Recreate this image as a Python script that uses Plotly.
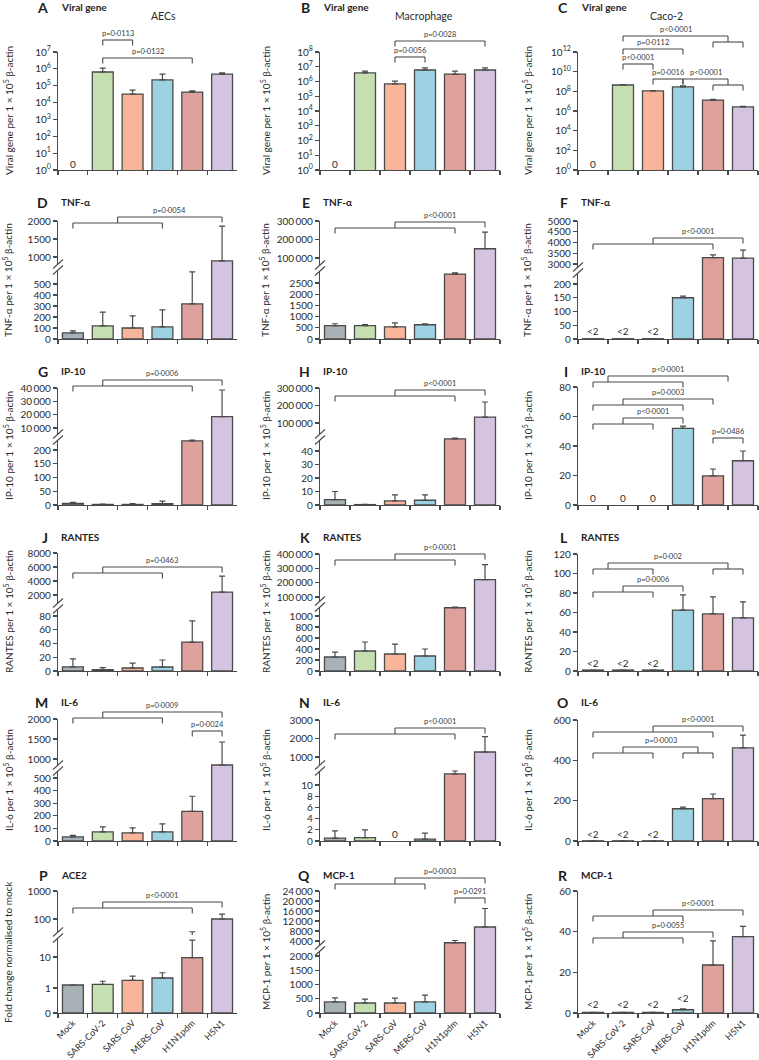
import plotly.graph_objects as go

W, H = 759, 1060

categories = ["Mock", "SARS-CoV-2", "SARS-CoV", "MERS-CoV", "H1N1pdm", "H5N1"]
bar_colors = ["#a8b1b6", "#c6dfb1", "#f8b59a", "#9dd2e3", "#dea19c", "#d4c4e2"]

# ---- values: bar height (mean) and top of error bar ----
viral_aec = [0, 6.5e5, 3.2e4, 2.2e5, 4.2e4, 4.9e5]
viral_aec_hi = [None, 1.1e6, 5.5e4, 4.9e5, 4.9e4, 5.7e5]
viral_mac = [0, 3.8e6, 6.8e5, 6.0e6, 3.2e6, 6.0e6]
viral_mac_hi = [None, 5.1e6, 1.07e6, 8.3e6, 5.1e6, 8.3e6]
viral_caco = [0, 4.4e8, 1.1e8, 2.8e8, 1.3e7, 2.6e6]
viral_caco_hi = [None, 4.8e8, 1.2e8, 3.6e8, 1.5e7, 2.9e6]

tnf_aec = [55, 120, 100, 110, 320, 890]
tnf_aec_hi = [73, 245, 210, 264, 610, 1860]
tnf_mac = [600, 600, 545, 636, 2900, 150000]
tnf_mac_hi = [680, 640, 720, 680, 2950, 240000]
tnf_caco = [1, 1, 1, 150, 3300, 3270]
tnf_caco_hi = [None, None, None, 156, 3420, 3650]

ip10_aec = [6, 2, 2, 5, 233, 18500]
ip10_aec_hi = [10, 3, 5, 14, 236, 38500]
ip10_mac = [4, 0.3, 3, 3.5, 49, 134000]
ip10_mac_hi = [10, 0.5, 7.5, 7.5, 49.5, 220000]
ip10_caco = [0, 0, 0, 52, 19.7, 30]
ip10_caco_hi = [None, None, None, 53.5, 24.4, 36.6]

rantes_aec = [6, 2, 4.4, 5.8, 42, 2400]
rantes_aec_hi = [17.5, 5, 11.6, 16, 73, 4700]
rantes_mac = [255, 364, 309, 273, 1150, 221000]
rantes_mac_hi = [345, 527, 490, 400, 1160, 326000]
rantes_caco = [1, 1, 1, 62.5, 58.5, 54.5]
rantes_caco_hi = [None, None, None, 78, 76, 71]

il6_aec = [32, 72, 64, 72, 235, 850]
il6_aec_hi = [45, 112, 104, 136, 355, 1425]
il6_mac = [0.5, 0.6, 0, 0.35, 12, 1270]
il6_mac_hi = [1.8, 2, None, 1.4, 12.5, 2100]
il6_caco = [1, 1, 1, 160, 210, 462]
il6_caco_hi = [None, None, None, 168, 233, 525]

ace2 = [1.25, 1.3, 1.75, 2.1, 9.5, 100]
ace2_hi = [None, 1.65, 2.4, 3.1, 35, 150]
mcp1_mac = [390, 350, 350, 390, 3300, 9600]
mcp1_mac_hi = [530, 490, 520, 630, 4200, 17000]
mcp1_caco = [0.3, 0.3, 0.3, 1.6, 23.6, 37.6]
mcp1_caco_hi = [None, None, None, 2.0, 35.5, 42.6]

AX = "#4a4a4a"
TXT = "#2b2b2b"
FONT = "Lato, 'Open Sans', sans-serif"

col_x = [(58, 237), (320, 500), (578, 758)]
col_ytitle_x = [8, 265, 527]
row_title_y = [7, 202, 371, 537, 702, 875]
row_ytitle_y = [111, 280, 446, 612, 780, 952]


def sup(n):
    return f"10<sup>{n}</sup>"


def th(v):
    s = f"{int(v):,}"
    return s.replace(",", "\u2009") if v >= 10000 else s.replace(",", "")


def seg(kind, cal, dom, tv, tt=None):
    return dict(kind=kind, cal=cal, dom=dom, tv=tv, tt=tt if tt is not None else [th(v) for v in tv])


YT = " per 1 × 10<sup>5</sup> β-actin"

panels = [
    dict(letter="A", name="Viral gene", col=0, row=0, mean=viral_aec, hi=viral_aec_hi,
         segs=[seg("log", (0, 170, 7, 52), (52, 170), [10 ** k for k in range(8)], [sup(k) for k in range(8)])],
         br=[(1, 1, 1, 2, 2, 2, 40, "p=0·0113"), (1, 1, 1, 4, 4, 4, 58, "p=0·0132")],
         lab=[(0, 164, "0")], brk=[], yt="Viral gene" + YT),
    dict(letter="B", name="Viral gene", col=1, row=0, mean=viral_mac, hi=viral_mac_hi,
         segs=[seg("log", (0, 170, 8, 52), (52, 170), [10 ** k for k in range(9)], [sup(k) for k in range(9)])],
         br=[(2, 2, 2, 5, 5, 5, 41, "p=0·0028"), (2, 2, 2, 3, 3, 3, 57, "p=0·0056")],
         lab=[(0, 164, "0")], brk=[], yt="Viral gene" + YT),
    dict(letter="C", name="Viral gene", col=2, row=0, mean=viral_caco, hi=viral_caco_hi,
         segs=[seg("log", (0, 170, 12, 52), (52, 170), [10 ** k for k in range(0, 13, 2)],
                   [sup(k) for k in range(0, 13, 2)])],
         br=[(1, 1, 1, 4, 5, 4.5, 36, "p<0·0001"), (1, 1, 1, 3, 3, 3, 49, "p=0·0112"),
             (1, 1, 1, 2, 2, 2, 64, "p<0·0001"), (2, 2, 2, 3, 3, 3, 79, "p=0·0016"),
             (3, 3, 3, 4, 5, 4.5, 79, "p<0·0001")],
         lab=[(0, 164, "0")], brk=[], yt="Viral gene" + YT),

    dict(letter="D", name="TNF-α", col=0, row=1, mean=tnf_aec, hi=tnf_aec_hi,
         segs=[seg("linear", (0, 339, 500, 284), (267, 339), [0, 100, 200, 300, 400, 500]),
               seg("linear", (1000, 257, 2000, 221), (221, 267), [1000, 1500, 2000])],
         br=[(0, 3, 1.5, 5, 5, 5, 217, "p=0·0054")], lab=[], brk=[267], yt="TNF-α" + YT),
    dict(letter="E", name="TNF-α", col=1, row=1, mean=tnf_mac, hi=tnf_mac_hi,
         segs=[seg("linear", (0, 339, 2500, 283), (268, 339), [0, 500, 1000, 1500, 2000, 2500]),
               seg("linear", (100000, 258, 300000, 221), (221, 268), [100000, 200000, 300000])],
         br=[(0, 4, 2, 5, 5, 5, 222, "p<0·0001")], lab=[], brk=[268], yt="TNF-α" + YT),
    dict(letter="F", name="TNF-α", col=2, row=1, mean=tnf_caco, hi=tnf_caco_hi,
         segs=[seg("linear", (0, 339, 200, 284), (270, 339), [0, 50, 100, 150, 200]),
               seg("linear", (3000, 264, 5000, 221), (221, 270), [3000, 3500, 4000, 4500, 5000])],
         br=[(0, 4, 2, 5, 5, 5, 238, "p<0·0001")],
         lab=[(0, 331, "<2"), (1, 331, "<2"), (2, 331, "<2")], brk=[270], yt="TNF-α" + YT),

    dict(letter="G", name="IP-10", col=0, row=2, mean=ip10_aec, hi=ip10_aec_hi,
         segs=[seg("linear", (0, 505, 200, 450), (437, 505), [0, 50, 100, 150, 200]),
               seg("linear", (10000, 428, 40000, 388), (388, 437), [10000, 20000, 30000, 40000])],
         br=[(0, 4, 1, 5, 5, 5, 380, "p=0·0006")], lab=[], brk=[437], yt="IP-10" + YT),
    dict(letter="H", name="IP-10", col=1, row=2, mean=ip10_mac, hi=ip10_mac_hi,
         segs=[seg("linear", (0, 505, 40, 451), (437, 505), [0, 10, 20, 30, 40]),
               seg("linear", (100000, 423, 300000, 388), (388, 437), [100000, 200000, 300000])],
         br=[(0, 4, 2, 5, 5, 5, 390, "p<0·0001")], lab=[], brk=[437], yt="IP-10" + YT),
    dict(letter="I", name="IP-10", col=2, row=2, mean=ip10_caco, hi=ip10_caco_hi,
         segs=[seg("linear", (0, 505, 80, 387), (387, 505), [0, 20, 40, 60, 80])],
         br=[(0, 3, 0.5, 4.5, 4.5, 4.5, 376, "p<0·0001"), (0, 3, 1, 4, 4, 4, 399, "p=0·0003"),
             (0, 2, 1, 3, 3, 3, 418, "p<0·0001"), (4, 4, 4, 5, 5, 5, 438, "p=0·0486")],
         lab=[(0, 498, "0"), (1, 498, "0"), (2, 498, "0")], brk=[], yt="IP-10" + YT),

    dict(letter="J", name="RANTES", col=0, row=3, mean=rantes_aec, hi=rantes_aec_hi,
         segs=[seg("linear", (0, 671, 80, 616), (606, 671), [0, 20, 40, 60, 80]),
               seg("linear", (2000, 595, 8000, 553), (553, 606), [2000, 4000, 6000, 8000])],
         br=[(0, 3, 1, 5, 5, 5, 567, "p=0·0463")], lab=[], brk=[606], yt="RANTES" + YT),
    dict(letter="K", name="RANTES", col=1, row=3, mean=rantes_mac, hi=rantes_mac_hi,
         segs=[seg("linear", (0, 671, 1000, 616), (604, 671), [0, 200, 400, 600, 800, 1000]),
               seg("linear", (100000, 597, 400000, 554), (554, 604), [100000, 200000, 300000, 400000])],
         br=[(0, 4, 2, 5, 5, 5, 554, "p<0·0001")], lab=[], brk=[604], yt="RANTES" + YT),
    dict(letter="L", name="RANTES", col=2, row=3, mean=rantes_caco, hi=rantes_caco_hi,
         segs=[seg("linear", (0, 671, 120, 554), (554, 671), [0, 20, 40, 60, 80, 100, 120])],
         br=[(0, 2, 0.5, 4, 5, 4.5, 563, "p=0·002"), (0, 2, 1, 3, 3, 3, 586, "p=0·0006")],
         lab=[(0, 663, "<2"), (1, 663, "<2"), (2, 663, "<2")], brk=[], yt="RANTES" + YT),

    dict(letter="M", name="IL-6", col=0, row=4, mean=il6_aec, hi=il6_aec_hi,
         segs=[seg("linear", (0, 841, 500, 778), (768, 841), [0, 100, 200, 300, 400, 500]),
               seg("linear", (1000, 759, 2000, 719), (719, 768), [1000, 1500, 2000])],
         br=[(0, 3, 1, 5, 5, 5, 712, "p=0·0009"), (4, 4, 4, 5, 5, 5, 731, "p=0·0024")],
         lab=[], brk=[768], yt="IL-6" + YT),
    dict(letter="N", name="IL-6", col=1, row=4, mean=il6_mac, hi=il6_mac_hi,
         segs=[seg("linear", (0, 841, 10, 785), (768, 841), [0, 2, 4, 6, 8, 10]),
               seg("linear", (1000, 757, 3000, 720), (720, 768), [1000, 2000, 3000])],
         br=[(0, 4, 2, 5, 5, 5, 728, "p<0·0001")], lab=[(2, 834, "0")], brk=[768], yt="IL-6" + YT),
    dict(letter="O", name="IL-6", col=2, row=4, mean=il6_caco, hi=il6_caco_hi,
         segs=[seg("linear", (0, 841, 600, 720), (720, 841), [0, 200, 400, 600])],
         br=[(0, 4, 2, 5, 5, 5, 726, "p<0·0001"), (0, 2, 1, 3, 4, 3.5, 747, "p=0·0003")],
         lab=[(0, 834, "<2"), (1, 834, "<2"), (2, 834, "<2")], brk=[], yt="IL-6" + YT),

    dict(letter="P", name="ACE2", col=0, row=5, mean=ace2, hi=ace2_hi,
         segs=[seg("linear", (0, 1013, 1, 988), (988, 1013), [0]),
               seg("log", (0, 988, 1, 957), (935, 988), [1, 10], ["1", "10"]),
               seg("log", (2, 919, 3, 891), (891, 935), [100, 1000], ["100", "1000"])],
         br=[(0, 4, 1, 5, 5, 5, 902, "p<0·0001")], lab=[], brk=[935],
         yt="Fold change normalised to mock"),
    dict(letter="Q", name="MCP-1", col=1, row=5, mean=mcp1_mac, hi=mcp1_mac_hi,
         segs=[seg("linear", (0, 1013, 2000, 956), (948, 1013), [0, 500, 1000, 1500, 2000]),
               seg("linear", (4000, 941, 24000, 891), (891, 948), [4000, 8000, 12000, 16000, 20000, 24000])],
         br=[(0, 3, 2, 5, 5, 5, 878, "p=0·0003"), (4, 4, 4, 5, 5, 5, 898, "p=0·0291")],
         lab=[], brk=[948], yt="MCP-1" + YT),
    dict(letter="R", name="MCP-1", col=2, row=5, mean=mcp1_caco, hi=mcp1_caco_hi,
         segs=[seg("linear", (0, 1013, 60, 891), (891, 1013), [0, 20, 40, 60])],
         br=[(0, 3, 2, 5, 5, 5, 910, "p<0·0001"), (0, 3, 1, 4, 4, 4, 932, "p=0·0055")],
         lab=[(0, 1004, "<2"), (1, 1004, "<2"), (2, 1004, "<2"), (3, 998, "<2")], brk=[],
         yt="MCP-1" + YT),
]

subtitles = [("AECs", 163), ("Macrophage", 424), ("Caco-2", 666)]


def P(ypx):
    return 1 - ypx / H


def X(xpx):
    return xpx / W


fig = go.Figure()
lay = dict(width=W, height=H, margin=dict(l=0, r=0, t=0, b=0), paper_bgcolor="white",
           plot_bgcolor="white", showlegend=False, barmode="overlay", bargap=0.3,
           template="none", font=dict(family=FONT, color=TXT, size=10), hovermode=False)
shapes = []
ann = []
LEG, DROP = 5.5, 6

xi = 0
yi = 0
for p in panels:
    xi += 1
    xn = "x" if xi == 1 else f"x{xi}"
    xk = "xaxis" if xi == 1 else f"xaxis{xi}"
    ax0, ax1 = col_x[p["col"]]
    first_y = None
    for s in p["segs"]:
        yi += 1
        yn = "y" if yi == 1 else f"y{yi}"
        yk = "yaxis" if yi == 1 else f"yaxis{yi}"
        if first_y is None:
            first_y = yn
        v1, p1, v2, p2 = s["cal"]
        k = (p2 - p1) / (v2 - v1)
        top, bot = s["dom"]
        rng = [v1 + (bot - p1) / k, v1 + (top - p1) / k]
        lay[yk] = dict(type=s["kind"], domain=[P(bot), P(top)], range=rng, anchor=xn,
                       tickmode="array", tickvals=s["tv"], ticktext=s["tt"], ticks="outside",
                       ticklen=4, tickwidth=1.1, tickcolor=AX, showline=True, linecolor=AX,
                       linewidth=1.2, showgrid=False, zeroline=False, automargin=False,
                       fixedrange=True, tickfont=dict(size=10, color=TXT, family=FONT))
        yv = [m if (m is not None and m > 0) else None for m in p["mean"]]
        ep = [(h - m) if (h is not None and m) else 0 for m, h in zip(p["mean"], p["hi"])]
        fig.add_trace(go.Bar(x=categories, y=yv, xaxis=xn, yaxis=yn,
                             marker=dict(color=bar_colors, line=dict(color=AX, width=1.3)),
                             error_y=dict(type="data", symmetric=False, array=ep, arrayminus=[0] * 6,
                                          color=AX, thickness=1.2, width=3),
                             hoverinfo="skip"))
    bottom = p["row"] == 5
    lay[xk] = dict(domain=[X(ax0), X(ax1)], anchor=first_y, type="category",
                   categoryorder="array", categoryarray=categories, range=[-0.5, 5.5],
                   tickson="boundaries", ticks="outside", ticklen=4, tickwidth=1.1, tickcolor=AX,
                   showline=True, linecolor=AX, linewidth=1.2, showgrid=False, zeroline=False,
                   showticklabels=bottom, tickangle=-45, automargin=False, fixedrange=True,
                   tickfont=dict(size=9, color=TXT, family=FONT))

    def line(xa, ya, xb, yb, xn=xn):
        shapes.append(dict(type="line", xref=xn, yref="paper", x0=xa, x1=xb, y0=P(ya), y1=P(yb),
                           line=dict(color=AX, width=1.1)))

    for (la, lb, ls, ra, rb, rs, ytop, txt) in p["br"]:
        line(ls, ytop, rs, ytop)
        for (a, b, st) in [(la, lb, ls), (ra, rb, rs)]:
            if a == b:
                line(st, ytop, st, ytop + LEG)
            else:
                ys = ytop + DROP
                line(st, ytop, st, ys)
                line(a, ys, b, ys)
                line(a, ys, a, ys + LEG)
                line(b, ys, b, ys + LEG)
        ann.append(dict(x=(ls + rs) / 2, xref=xn, y=P(ytop - 6.5), yref="paper", text=txt,
                        showarrow=False, yanchor="middle", xanchor="center",
                        font=dict(size=7.5, color="#3a3a3a", family=FONT)))

    for (idx, ypx, txt) in p["lab"]:
        ann.append(dict(x=idx, xref=xn, y=P(ypx), yref="paper", text=txt, showarrow=False,
                        yanchor="middle", font=dict(size=10, color=TXT, family=FONT)))

    for sm in p["brk"]:
        shapes.append(dict(type="rect", xref="paper", yref="paper", x0=X(ax0 - 2.5), x1=X(ax0 + 2.5),
                           y0=P(sm + 3), y1=P(sm - 3), fillcolor="white", line=dict(width=0)))
        for dy in (-3, 3):
            shapes.append(dict(type="line", xref="paper", yref="paper",
                               x0=X(ax0 - 5), y0=P(sm + dy + 4.5), x1=X(ax0 + 5), y1=P(sm + dy - 4.5),
                               line=dict(color=AX, width=1.1)))

    ty = row_title_y[p["row"]]
    ann.append(dict(x=X(ax0 - 8), y=P(ty), xref="paper", yref="paper", text=f"<b>{p['letter']}</b>",
                    showarrow=False, xanchor="right", yanchor="middle",
                    font=dict(size=14, color="#1e1e1e", family=FONT)))
    ann.append(dict(x=X(ax0 + 1), y=P(ty), xref="paper", yref="paper", text=f"<b>{p['name']}</b>",
                    showarrow=False, xanchor="left", yanchor="middle",
                    font=dict(size=10, color="#1e1e1e", family=FONT)))
    ann.append(dict(x=X(col_ytitle_x[p["col"]]), y=P(row_ytitle_y[p["row"]]), xref="paper", yref="paper",
                    text=p["yt"], textangle=-90, showarrow=False, xanchor="center", yanchor="middle",
                    font=dict(size=10, color=TXT, family=FONT)))

for (txt, xc) in subtitles:
    ann.append(dict(x=X(xc), y=P(16), xref="paper", yref="paper", text=txt, showarrow=False,
                    xanchor="center", yanchor="middle", font=dict(size=10.5, color=TXT, family=FONT)))

lay["shapes"] = shapes
lay["annotations"] = ann
fig.update_layout(**lay)
fig.write_html("out.html", config={"displayModeBar": False, "staticPlot": True},
               post_script="document.body.style.margin='0';document.body.style.overflow='hidden';")
